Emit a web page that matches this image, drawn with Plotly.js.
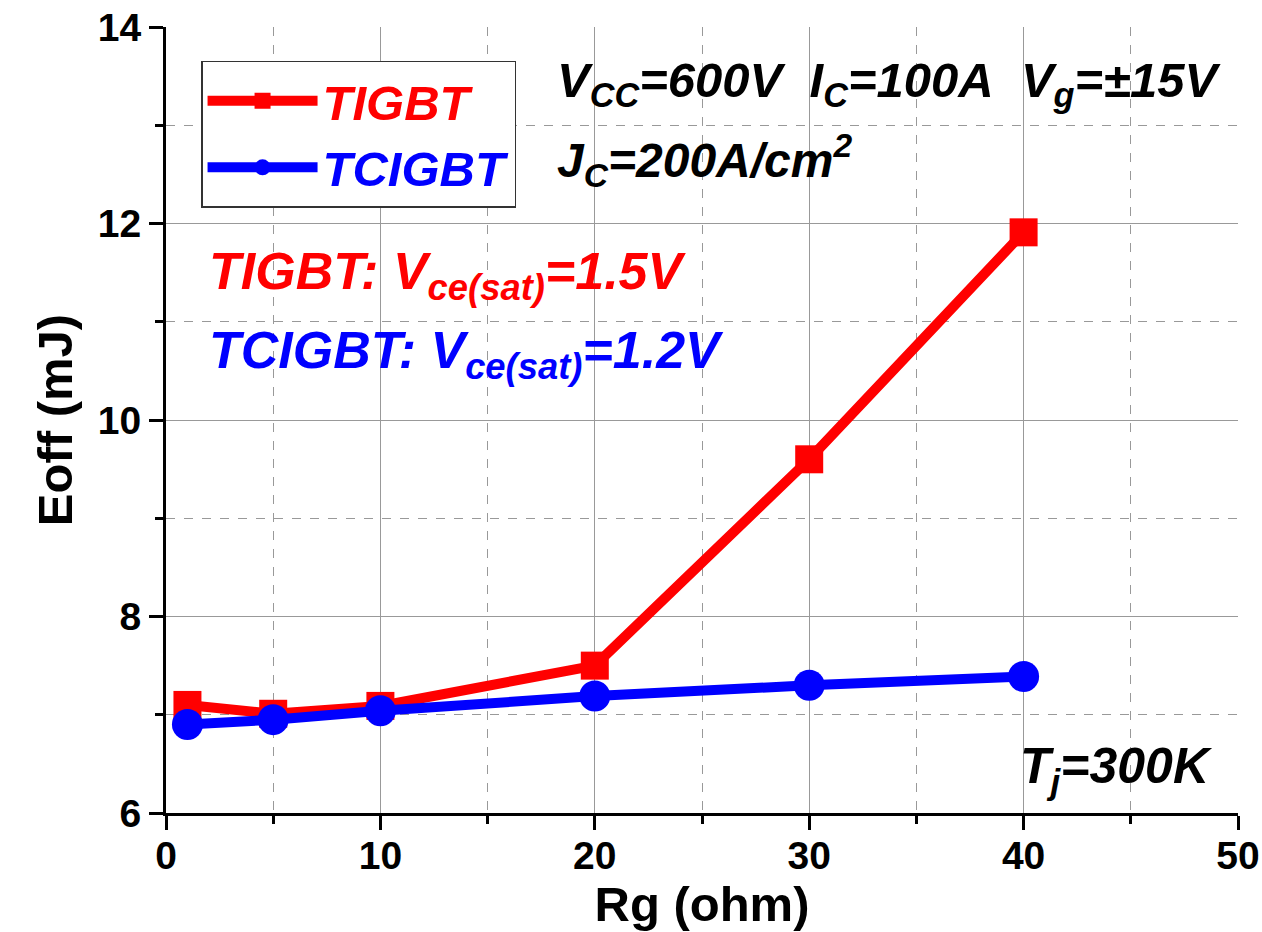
<!DOCTYPE html>
<html>
<head>
<meta charset="utf-8">
<script src="https://cdn.plot.ly/plotly-3.0.1.min.js"></script>
<style>html,body{margin:0;padding:0;background:#fff;}#chart{width:1262px;height:932px;}</style>
</head>
<body>
<div id="chart"></div>
<script>
// Data
const rg = [1, 5, 10, 20, 30, 40];
const eoffTIGBT = [7.10, 7.01, 7.09, 7.50, 9.60, 11.91];
const eoffTCIGBT = [6.90, 6.95, 7.04, 7.19, 7.30, 7.39];
const seriesNames = ['TIGBT', 'TCIGBT'];
const xTickVals = [0, 10, 20, 30, 40, 50];
const yTickVals = [6, 8, 10, 12, 14];

const FONT = 'Liberation Sans, Arial, sans-serif';
const RED = '#ff0000';
const BLUE = '#0000ff';

const traces = [
  {
    x: rg, y: eoffTIGBT, name: '<span style="color:' + RED + '">' + seriesNames[0] + '</span>',
    type: 'scatter', mode: 'lines+markers',
    line: {color: RED, width: 10},
    marker: {symbol: 'square', size: 28, color: RED}
  },
  {
    x: rg, y: eoffTCIGBT, name: '<span style="color:' + BLUE + '">' + seriesNames[1] + '</span>',
    type: 'scatter', mode: 'lines+markers',
    line: {color: BLUE, width: 10},
    marker: {symbol: 'circle', size: 31, color: BLUE}
  }
];

const axisCommon = {
  showline: true, linecolor: '#000', linewidth: 3,
  ticks: 'outside', ticklen: 14, tickwidth: 3, tickcolor: '#000',
  showgrid: true, gridcolor: '#999999', gridwidth: 1,
  zeroline: false,
  tickfont: {family: FONT, size: 39, color: '#000', weight: 'bold'}
};

const layout = {
  width: 1262, height: 932,
  paper_bgcolor: '#fff', plot_bgcolor: '#fff',
  margin: {l: 166, r: 24, t: 27, b: 119},
  showlegend: true,
  legend: {
    x: 0.0327, y: 0.957, xanchor: 'left', yanchor: 'top',
    bgcolor: '#fff', bordercolor: '#333', borderwidth: 1.5,
    font: {family: FONT, size: 49, weight: 'bold', style: 'italic'},
    itemwidth: 110, tracegroupgap: 0
  },
  xaxis: Object.assign({}, axisCommon, {
    range: [0, 50], tickvals: xTickVals, ticktext: xTickVals.map(String),
    ticklabelstandoff: -8,
    minor: {dtick: 5, tick0: 0, ticks: 'outside', ticklen: 8, tickwidth: 3, tickcolor: '#000',
            showgrid: true, gridcolor: '#999999', gridwidth: 1, griddash: 'dash'},
    title: {text: 'Rg (ohm)', font: {family: FONT, size: 49, color: '#000', weight: 'bold'}, standoff: 0}
  }),
  yaxis: Object.assign({}, axisCommon, {
    range: [6, 14], tickvals: yTickVals, ticktext: yTickVals.map(String),
    minor: {dtick: 1, tick0: 6, ticks: 'outside', ticklen: 8, tickwidth: 3, tickcolor: '#000',
            showgrid: true, gridcolor: '#999999', gridwidth: 1, griddash: 'dash'},
    title: {text: 'Eoff (mJ)', font: {family: FONT, size: 49, color: '#000', weight: 'bold'}, standoff: 10}
  }),
  xaxis2: {
    overlaying: 'x', side: 'top', anchor: 'y', range: [0, 50], tickvals: xTickVals,
    showline: true, linecolor: '#000', linewidth: 3,
    ticks: 'inside', ticklen: 14, tickwidth: 3, tickcolor: '#000',
    minor: {dtick: 5, tick0: 0, ticks: 'inside', ticklen: 8, tickwidth: 3, tickcolor: '#000', showgrid: false},
    showticklabels: false, showgrid: false, zeroline: false, fixedrange: true
  },
  yaxis2: {
    overlaying: 'y', side: 'right', anchor: 'x', range: [6, 14], tickvals: yTickVals,
    showline: true, linecolor: '#000', linewidth: 3,
    ticks: 'inside', ticklen: 14, tickwidth: 3, tickcolor: '#000',
    minor: {dtick: 1, tick0: 6, ticks: 'inside', ticklen: 8, tickwidth: 3, tickcolor: '#000', showgrid: false},
    showticklabels: false, showgrid: false, zeroline: false, fixedrange: true
  },
  annotations: [
    {xref: 'paper', yref: 'paper', x: 0.3629, y: 0.928, xanchor: 'left', yanchor: 'middle', showarrow: false,
     text: 'V<sub>CC</sub>=600V\u00a0\u00a0I<sub>C</sub>=100A\u00a0\u00a0V<sub>g</sub>=\u00b115V',
     font: {family: FONT, size: 49, color: '#000', weight: 'bold', style: 'italic'}},
    {xref: 'paper', yref: 'paper', x: 0.3629, y: 0.830, xanchor: 'left', yanchor: 'middle', showarrow: false,
     text: 'J<sub>C</sub>=200A/cm<sup>2</sup>',
     font: {family: FONT, size: 48, color: '#000', weight: 'bold', style: 'italic'}},
    {xref: 'paper', yref: 'paper', x: 0.038, y: 0.684, xanchor: 'left', yanchor: 'middle', showarrow: false,
     text: 'TIGBT: V<sub>ce(sat)</sub>=1.5V',
     font: {family: FONT, size: 52, color: RED, weight: 'bold', style: 'italic'}},
    {xref: 'paper', yref: 'paper', x: 0.038, y: 0.584, xanchor: 'left', yanchor: 'middle', showarrow: false,
     text: 'TCIGBT: V<sub>ce(sat)</sub>=1.2V',
     font: {family: FONT, size: 52, color: BLUE, weight: 'bold', style: 'italic'}},
    {xref: 'paper', yref: 'paper', x: 0.9785, y: 0.055, xanchor: 'right', yanchor: 'middle', showarrow: false,
     text: 'T<sub>j</sub>=300K',
     font: {family: FONT, size: 50, color: '#000', weight: 'bold', style: 'italic'}}
  ]
};

Plotly.newPlot('chart', traces, layout, {staticPlot: true, displayModeBar: false}).then(function (gd) {
  // enlarge legend symbols (Plotly caps legend marker size)
  const pts = gd.querySelectorAll('.legend .scatterpts path.point');
  pts.forEach(function (p) {
    const t = p.getAttribute('transform') || '';
    p.setAttribute('transform', t + ' scale(1.85)');
  });
});
</script>
</body>
</html>
